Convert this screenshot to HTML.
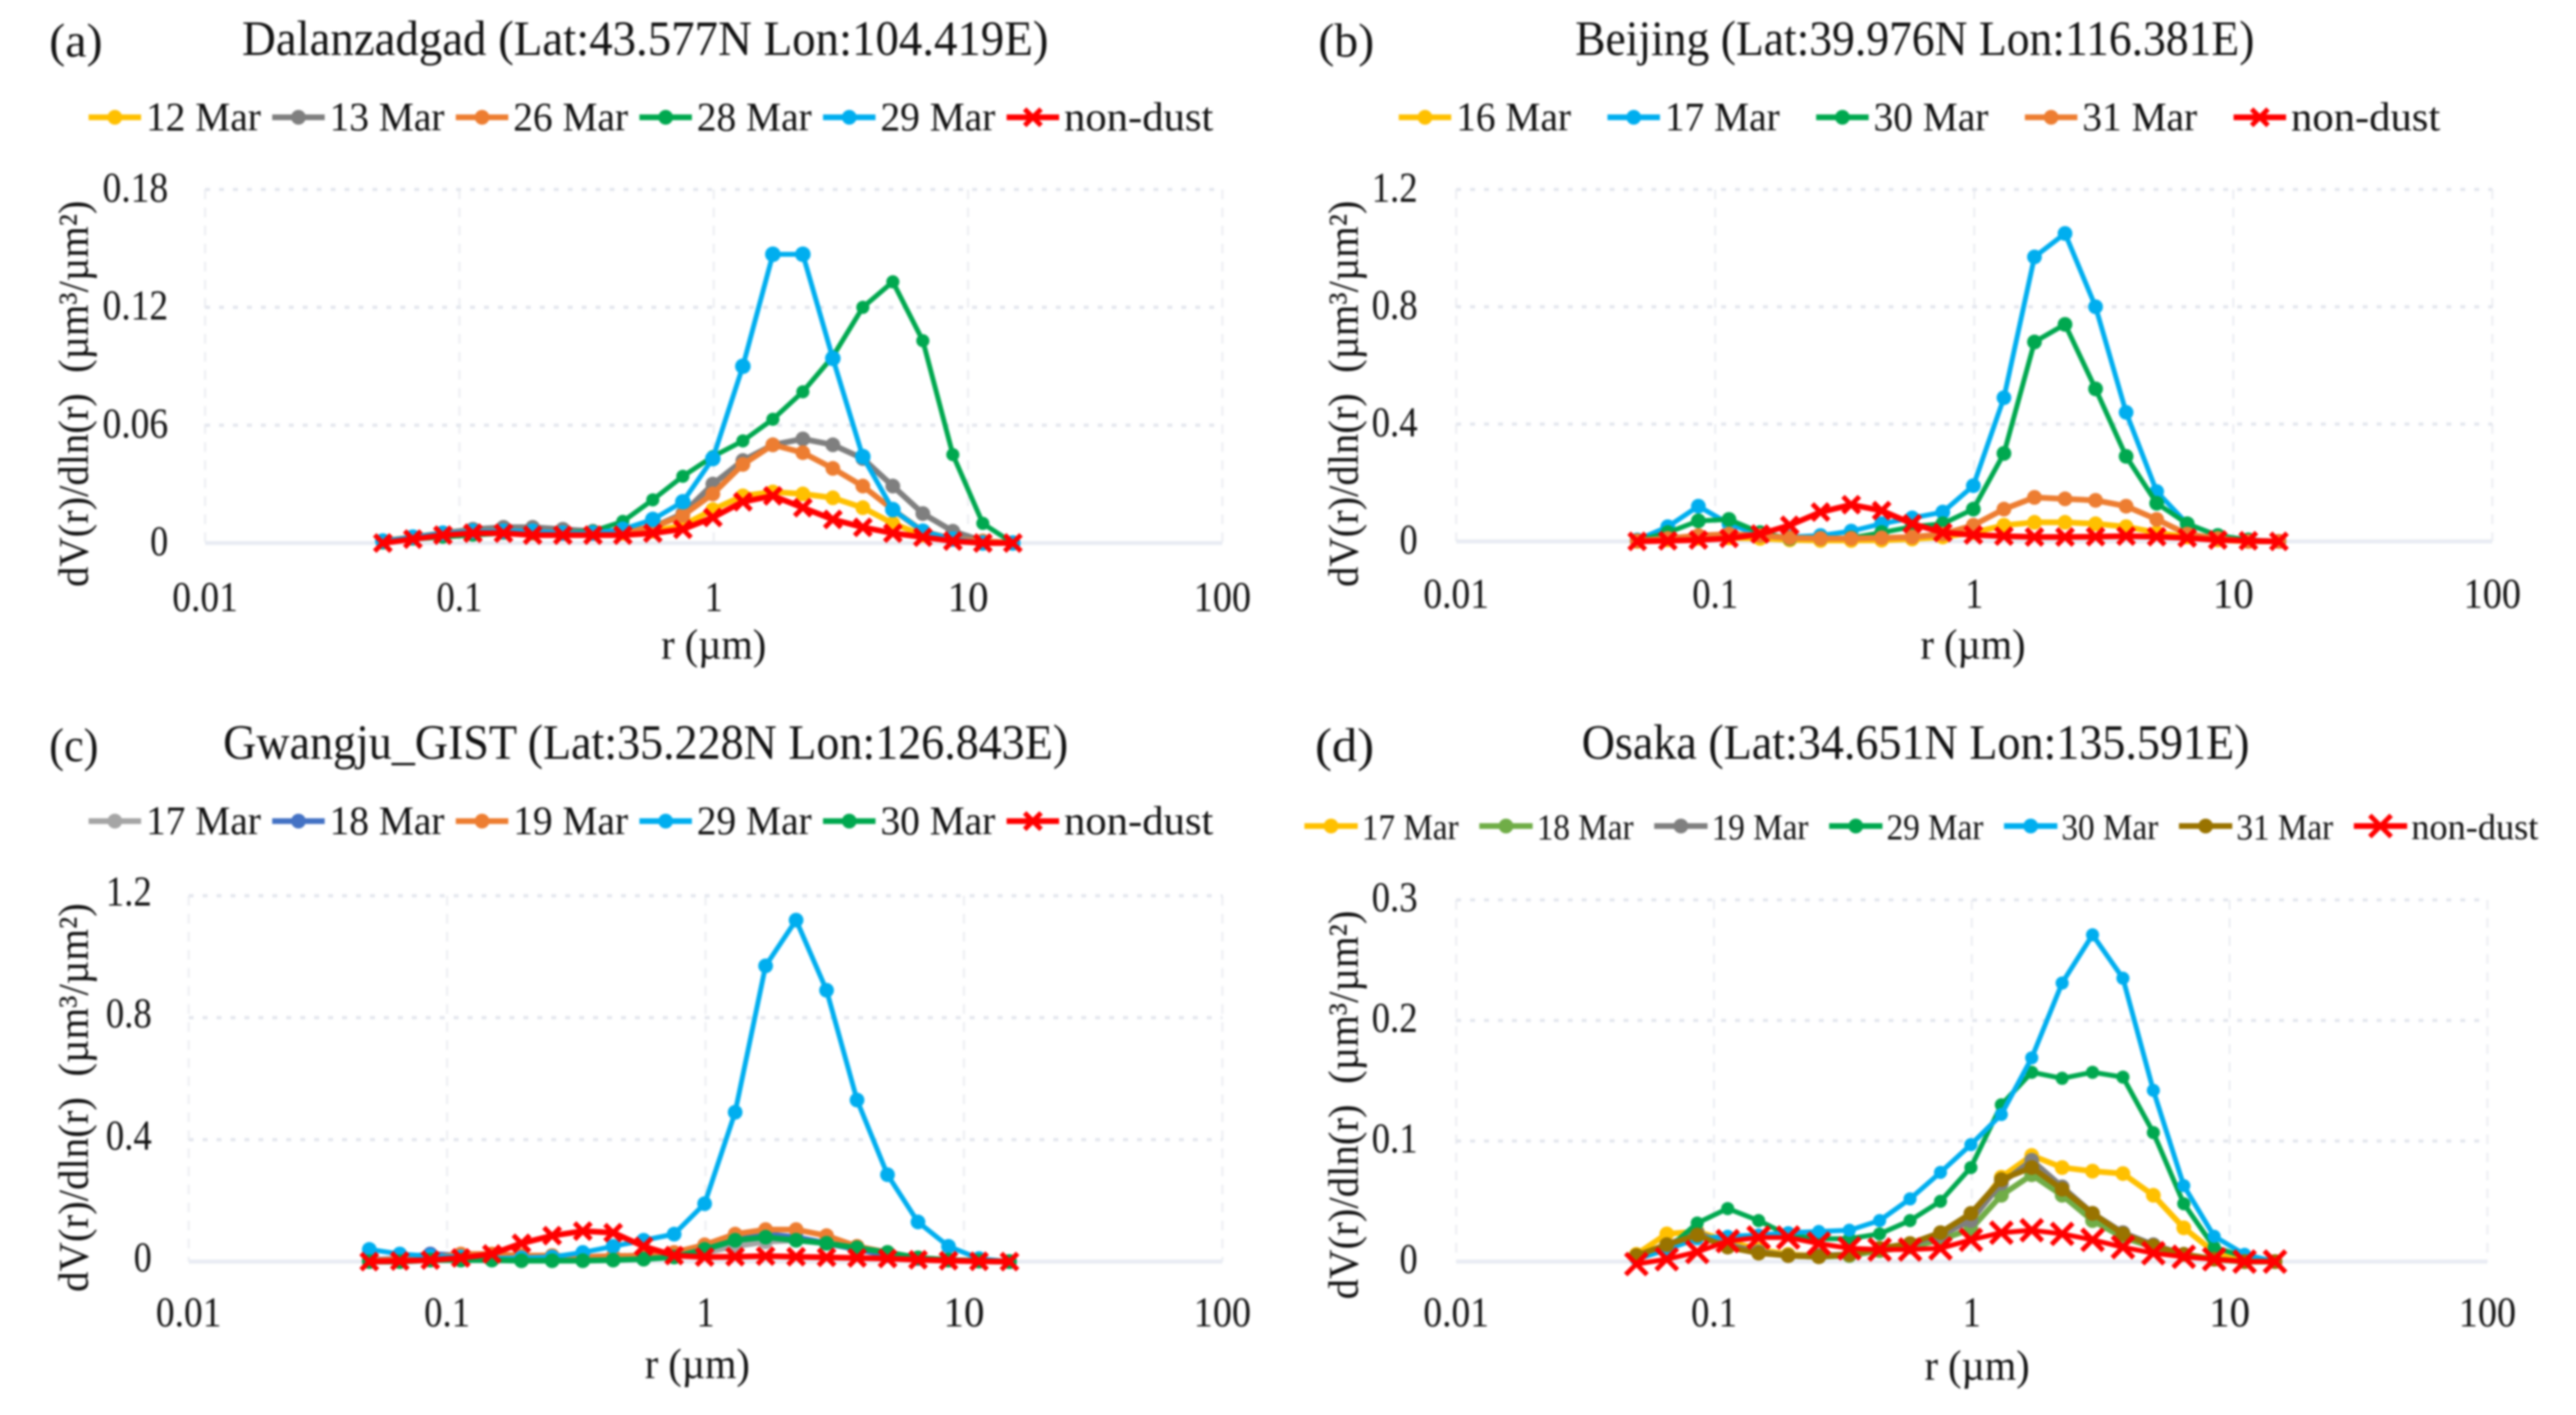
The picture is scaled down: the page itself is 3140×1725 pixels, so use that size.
<!DOCTYPE html>
<html lang="en">
<head>
<meta charset="utf-8">
<title>Dust volume size distributions</title>
<style>
html,body{margin:0;padding:0;background:#fff;width:3140px;height:1725px;overflow:hidden}
svg{display:block;filter:blur(1.2px)}
text{font-family:"Liberation Serif",serif;fill:#111;white-space:pre}
</style>
</head>
<body>
<svg id="figure" xmlns="http://www.w3.org/2000/svg" width="3140" height="1725" viewBox="0 0 3140 1725"></svg>
<script>
// ---------- data ----------
const radii = [0.05,0.0656,0.0861,0.113,0.149,0.194,0.255,0.335,0.439,0.576,0.756,0.992,1.302,1.708,2.241,2.94,3.857,5.061,6.641,8.713,11.432,15];
const xTicks = [0.01,0.1,1,10,100];

const datesA = ["12 Mar","13 Mar","26 Mar","28 Mar","29 Mar","non-dust"];
const a12 = [.001,.003,.004,.005,.006,.006,.005,.005,.005,.006,.009,.017,.024,.026,.025,.023,.018,.010,.004,.002,.001,0];
const a13 = [.001,.003,.005,.007,.008,.008,.007,.006,.006,.008,.015,.030,.042,.050,.053,.050,.043,.029,.015,.006,.001,0];
const a26 = [.001,.003,.005,.006,.006,.005,.005,.005,.006,.008,.014,.025,.040,.050,.046,.038,.029,.017,.006,.002,.001,0];
const a28 = [0,.002,.003,.004,.005,.005,.005,.006,.011,.022,.034,.044,.052,.063,.077,.095,.120,.133,.103,.045,.010,0];
const a29 = [.001,.003,.005,.006,.006,.006,.005,.005,.007,.012,.021,.043,.090,.147,.147,.094,.044,.017,.006,.002,0,0];
const aNon = [0,.002,.004,.005,.005,.004,.004,.004,.004,.005,.007,.013,.021,.024,.018,.012,.008,.005,.003,.001,0,0];
const yTicksA = [0,0.06,0.12,0.18];

const datesB = ["16 Mar","17 Mar","30 Mar","31 Mar","non-dust"];
const b16 = [0,.005,.01,.012,.01,.005,.003,.003,.004,.008,.015,.03,.055,.065,.065,.06,.05,.03,.015,.005,0,0];
const b17 = [.005,.05,.12,.06,.02,.015,.02,.035,.06,.08,.10,.19,.49,.97,1.05,.80,.44,.17,.06,.02,.005,0];
const b30 = [.002,.03,.07,.075,.03,.01,.01,.012,.03,.05,.06,.11,.30,.68,.74,.52,.29,.13,.06,.02,.005,0];
const b31 = [.002,.01,.02,.025,.02,.012,.01,.01,.012,.015,.025,.055,.11,.15,.145,.14,.12,.075,.025,.01,0,0];
const bNon = [0,.002,.005,.01,.025,.055,.10,.125,.105,.06,.03,.022,.018,.015,.015,.016,.018,.016,.012,.005,.002,0];
const yTicksB = [0,0.4,0.8,1.2];

const datesC = ["17 Mar","18 Mar","19 Mar","29 Mar","30 Mar","non-dust"];
const c17 = [.002,.005,.01,.012,.012,.012,.012,.013,.015,.018,.02,.03,.05,.065,.07,.06,.04,.025,.012,.005,.002,0];
const c18 = [.005,.01,.025,.02,.018,.015,.015,.015,.018,.02,.025,.04,.07,.09,.08,.06,.04,.02,.01,.005,.002,0];
const c19 = [.003,.008,.012,.025,.025,.02,.02,.015,.018,.02,.03,.055,.09,.105,.105,.085,.05,.03,.012,.005,.002,0];
const c29 = [.04,.025,.018,.015,.01,.012,.015,.03,.05,.07,.09,.19,.49,.97,1.12,.89,.53,.285,.13,.05,.01,0];
const c30 = [0,0,.005,.005,.005,.003,.003,.003,.005,.008,.015,.04,.07,.08,.07,.06,.045,.03,.012,.005,.002,0];
const cNon = [0,.002,.005,.012,.025,.06,.085,.10,.095,.05,.02,.015,.016,.018,.016,.014,.012,.01,.006,.003,.001,0];
const yTicksC = [0,0.4,0.8,1.2];

const datesD = ["17 Mar","18 Mar","19 Mar","29 Mar","30 Mar","31 Mar","non-dust"];
const d17 = [.006,.023,.025,.017,.010,.006,.005,.006,.010,.015,.022,.037,.070,.088,.078,.075,.073,.055,.028,.008,.002,0];
const d18 = [.004,.012,.022,.013,.008,.005,.004,.005,.009,.012,.018,.027,.055,.072,.055,.034,.020,.012,.006,.002,0,0];
const d19 = [.004,.014,.024,.014,.008,.005,.005,.006,.011,.014,.022,.034,.065,.084,.062,.040,.024,.014,.006,.002,0,0];
const d29 = [.002,.010,.032,.044,.034,.022,.019,.019,.023,.034,.050,.078,.130,.157,.152,.157,.153,.107,.048,.012,.004,0];
const d30 = [.002,.010,.019,.021,.022,.024,.025,.026,.034,.052,.074,.097,.122,.169,.231,.271,.235,.142,.063,.021,.006,0];
const d31 = [.005,.014,.022,.012,.007,.005,.004,.006,.011,.015,.024,.040,.068,.078,.060,.040,.023,.013,.006,.002,0,0];
const dNon = [-.002,.002,.008,.017,.02,.02,.015,.011,.01,.01,.011,.018,.024,.026,.023,.018,.012,.007,.004,.002,0,0];
const yTicksD = [0,0.1,0.2,0.3];

// ---------- colours ----------
const GOLD="#ffc000",GREY="#7f7f7f",ORANGE="#ed7d31",GREEN="#00a84f",BLUE="#00aeef",RED="#ff0000",
      LGREY="#a5a5a5",DBLUE="#4472c4",LGREEN="#70ad47",BROWN="#997300";

// ---------- panel definitions ----------
const panels = [
 {id:"a",label:"(a)",labelX:60,labelW:65,labelY:69,title:"Dalanzadgad (Lat:43.577N Lon:104.419E)",titleX:295,titleW:983,titleY:67,
  x0:250,x1:1490,y0:662,y1:231,ymax:0.18,ticks:yTicksA,tickRight:205,tickDy:-2,xLabelY:728,rX:870,rY:787,
  yTitleX:90,yTitleCy:480,yTitleLen:471,
  legX:108,legStep:223.8,legY:143,legLine:64,legGap:6,legText:140,legLast:182,legFont:50,
  dates:datesA,values:[a12,a13,a26,a28,a29,aNon],colors:[GOLD,GREY,ORANGE,GREEN,BLUE,RED],radius:[9,9,9,8,9.5,8],widths:[7,7,7,6,6,7],crossR:10},
 {id:"b",label:"(b)",labelX:1607,labelW:68,labelY:69,title:"Beijing (Lat:39.976N Lon:116.381E)",titleX:1920,titleW:828,titleY:67,
  x0:1775,x1:3038,y0:660,y1:231,ymax:1.2,ticks:yTicksB,tickRight:1728,tickDy:-2,xLabelY:724,rX:2405,rY:787,
  yTitleX:1638,yTitleCy:480,yTitleLen:471,
  legX:1705,legStep:254.4,legY:143,legLine:64,legGap:6,legText:140,legLast:182,legFont:50,
  dates:datesB,values:[b16,b17,b30,b31,bNon],colors:[GOLD,BLUE,GREEN,ORANGE,RED],radius:[9,9,9,9,8],widths:[7,6,6,7,7],crossR:10},
 {id:"c",label:"(c)",labelX:60,labelW:60,labelY:928,title:"Gwangju_GIST (Lat:35.228N Lon:126.843E)",titleX:272,titleW:1030,titleY:925,
  x0:230,x1:1490,y0:1538,y1:1092,ymax:1.2,ticks:yTicksC,tickRight:185,tickDy:-5,xLabelY:1600,rX:850,rY:1664,
  yTitleX:90,yTitleCy:1338,yTitleLen:474,
  legX:108,legStep:223.8,legY:1001,legLine:64,legGap:6,legText:140,legLast:182,legFont:50,
  dates:datesC,values:[c17,c18,c19,c29,c30,cNon],colors:[LGREY,DBLUE,ORANGE,BLUE,GREEN,RED],radius:[9,9,9,9,9,8],widths:[7,7,7,6,7,7],crossR:10},
 {id:"d",label:"(d)",labelX:1603,labelW:72,labelY:928,title:"Osaka (Lat:34.651N Lon:135.591E)",titleX:1928,titleW:814,titleY:925,
  x0:1775,x1:3032,y0:1538,y1:1097,ymax:0.3,ticks:yTicksD,tickRight:1728,tickDy:-3,xLabelY:1600,rX:2410,rY:1666,
  yTitleX:1638,yTitleCy:1347,yTitleLen:474,
  legX:1590,legStep:213.2,legY:1007,legLine:65,legGap:5,legText:118,legLast:155,legFont:44,
  dates:datesD,values:[d17,d18,d19,d29,d30,d31,dNon],colors:[GOLD,LGREEN,GREY,GREEN,BLUE,BROWN,RED],radius:[9,9,9,8,8,9,0],widths:[7,7,7,6,6,7,6],crossR:13}
];

// ---------- drawing ----------
const NS="http://www.w3.org/2000/svg";
const svg=document.getElementById("figure");
function make(tag,parent,attrs){
  const el=document.createElementNS(NS,tag);
  for(const k in attrs) el.setAttribute(k,attrs[k]);
  parent.appendChild(el);
  return el;
}
function textEl(parent,str,x,y,size,anchor,len){
  const attrs={x:x,y:y,"font-size":size,"text-anchor":anchor};
  if(len){attrs.textLength=len;attrs.lengthAdjust="spacingAndGlyphs";}
  const t=make("text",parent,attrs);
  t.textContent=str;
  return t;
}

panels.forEach(function(p){
  const decades=Math.log10(xTicks[xTicks.length-1])-Math.log10(xTicks[0]);
  const xScale=function(v){return p.x0+(Math.log10(v)-Math.log10(xTicks[0]))/decades*(p.x1-p.x0);};
  const yScale=function(v){return p.y0-(v/p.ymax)*(p.y0-p.y1);};

  const g=make("g",svg,{});
  
  

  const lab=textEl(g,p.label,p.labelX,p.labelY,58,"start",p.labelW);
  
  

  const ttl=textEl(g,p.title,p.titleX,p.titleY,60,"start",p.titleW);
  
  

  // vertical grid
  xTicks.forEach(function(t){
    const x=xScale(t);
    const gl=make("line",g,{x1:x,x2:x,y1:p.y1,y2:p.y0,stroke:"#eceef2","stroke-width":2.5,"stroke-dasharray":"12 10"});
    
    
    const tl=textEl(g,String(t),x,p.xLabelY+17,52,"middle",String(t).length===1?22:(String(t).length===2?50:(String(t)==="100"?70:(t===0.1?56:80))));
    
    
  });
  // horizontal grid
  p.ticks.forEach(function(t){
    const y=yScale(t);
    const gl=t===0
      ? make("line",g,{x1:p.x0,x2:p.x1,y1:y,y2:y,stroke:"#e9ecf3","stroke-width":5})
      : make("line",g,{x1:p.x0,x2:p.x1,y1:y,y2:y,stroke:"#e4e7ee","stroke-width":4,"stroke-dasharray":"6 11"});
    
    
    const s=String(t);
    const tl=textEl(g,s,p.tickRight,y+17+p.tickDy,52,"end",s.length===1?22:(s.length===3?56:80));
    
    
  });

  // axis titles
  const rt=textEl(g,"r (µm)",p.rX,p.rY+16,52,"middle",128);
  
  

  const yt=textEl(g,"dV(r)/dln(r)  (µm³/µm²)",0,0,52,"middle",p.yTitleLen);
  yt.setAttribute("transform","translate("+(p.yTitleX+17)+" "+p.yTitleCy+") rotate(-90)");
  
  

  // series
  p.values.forEach(function(vals,i){
    const color=p.colors[i];
    const isCross=i===p.values.length-1;
    const sg=make("g",g,{});
    
    
    const pts=vals.map(function(v,k){return xScale(radii[k]).toFixed(1)+","+yScale(v).toFixed(1);}).join(" ");
    const pl=make("polyline",sg,{points:pts,fill:"none",stroke:color,"stroke-width":p.widths[i],"stroke-linejoin":"round"});
    
    
    vals.forEach(function(v,k){
      const cx=xScale(radii[k]),cy=yScale(v);
      let m;
      if(isCross){
        const r=p.crossR;
        m=make("path",sg,{d:"M"+(cx-r)+" "+(cy-r)+"L"+(cx+r)+" "+(cy+r)+"M"+(cx-r)+" "+(cy+r)+"L"+(cx+r)+" "+(cy-r),stroke:color,"stroke-width":6,fill:"none"});
      }else{
        m=make("circle",sg,{cx:cx,cy:cy,r:p.radius[i],fill:color});
      }
      
      
    });
  });

  // legend
  const lg=make("g",g,{});
  
  
  p.dates.forEach(function(d,i){
    const x=p.legX+i*p.legStep;
    const last=i===p.dates.length-1;
    const en=make("g",lg,{});
    
    
    const ln=make("line",en,{x1:x,x2:x+p.legLine,y1:p.legY,y2:p.legY,stroke:p.colors[i],"stroke-width":7});
    
    
    const cx=x+p.legLine/2;
    let mk;
    if(last){
      const r=p.crossR;
      mk=make("path",en,{d:"M"+(cx-r)+" "+(p.legY-r)+"L"+(cx+r)+" "+(p.legY+r)+"M"+(cx-r)+" "+(p.legY+r)+"L"+(cx+r)+" "+(p.legY-r),stroke:p.colors[i],"stroke-width":6,fill:"none"});
    }else{
      mk=make("circle",en,{cx:cx,cy:p.legY,r:9,fill:p.colors[i]});
    }
    
    
    const tx=textEl(en,d,x+p.legLine+p.legGap,p.legY+16,p.legFont,"start",last?p.legLast:p.legText);
    
    
  });
});
</script>
</body>
</html>
